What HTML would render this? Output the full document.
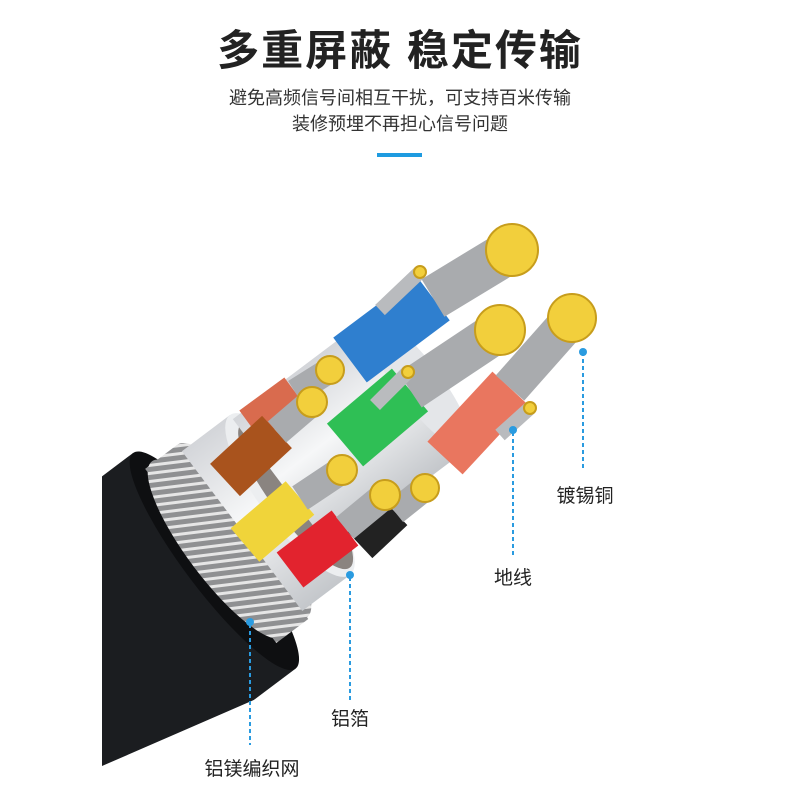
<!DOCTYPE html>
<html><head><meta charset="utf-8"><style>
html,body{margin:0;padding:0;background:#fff;overflow:hidden;width:800px;height:800px;}
body{position:relative;font-family:"Liberation Sans","Noto Sans CJK SC",sans-serif;}
.t{position:absolute;left:0;width:800px;text-align:center;color:#222;}
</style></head><body>
<div class="t" style="top:17px;font-size:42px;font-weight:bold;letter-spacing:2px;">多重屏蔽 稳定传输</div>
<div class="t" style="top:84px;font-size:18px;color:#333;">避免高频信号间相互干扰，可支持百米传输</div>
<div class="t" style="top:110px;font-size:18px;color:#333;">装修预埋不再担心信号问题</div>
<div style="position:absolute;left:377px;top:153px;width:45px;height:4px;background:#1e9be0;"></div>
<svg width="800" height="800" viewBox="0 0 800 800" style="position:absolute;left:0;top:0;overflow:hidden">
<defs>
<clipPath id="c"><polygon points="102,0 800,0 800,800 300,800 300,680 102,766"/></clipPath>
<pattern id="br" width="8" height="8" patternUnits="userSpaceOnUse" patternTransform="rotate(30)">
<rect width="8" height="8" fill="#8f9092"/><rect width="8" height="3" fill="#e6e6e6"/></pattern>
<linearGradient id="fo" x1="0" y1="0" x2="0" y2="1"><stop offset="0" stop-color="#d3d5d9"/><stop offset=".45" stop-color="#f6f7f8"/><stop offset="1" stop-color="#c4c7cb"/></linearGradient>
</defs>
<g clip-path="url(#c)">
<g transform="translate(290,495) rotate(-37)">
<rect x="-500" y="-128" width="400" height="270" fill="#1b1d20"/>
<ellipse cx="-100" cy="7" rx="30" ry="135" fill="#0e0f11"/>
</g>
</g>
<g transform="translate(290,495) rotate(-37)">
<rect x="-100" y="-108" width="40" height="218" fill="url(#br)"/>
<ellipse cx="-90" cy="0" rx="30" ry="110" fill="url(#br)"/>
<ellipse cx="-60" cy="0" rx="30" ry="108" fill="url(#br)"/>
<rect x="-60" y="-100" width="60" height="200" fill="url(#fo)"/>
<ellipse cx="0" cy="0" rx="30" ry="100" fill="#eceef0"/>
<ellipse cx="4" cy="4" rx="24" ry="90" fill="#8a8480"/>
<rect x="0" y="-95" width="170" height="165" fill="url(#fo)"/>
<ellipse cx="170" cy="-12" rx="22" ry="82" fill="#e4e6e9"/>
</g>
<g stroke-linecap="butt" fill="none">
<line x1="350" y1="360" x2="433" y2="298" stroke="#2f7fcf" stroke-width="56"/>
<line x1="433" y1="298" x2="512" y2="250" stroke="#a9abae" stroke-width="44"/>
<line x1="445" y1="458" x2="510" y2="388" stroke="#e9765f" stroke-width="48"/>
<line x1="510" y1="388" x2="572" y2="318" stroke="#a9abae" stroke-width="38"/>
<line x1="345" y1="445" x2="410" y2="390" stroke="#2fbf55" stroke-width="56"/>
<line x1="410" y1="390" x2="500" y2="330" stroke="#a9abae" stroke-width="42"/>
<line x1="380" y1="310" x2="420" y2="272" stroke="#b9bbbe" stroke-width="14"/>
<line x1="375" y1="405" x2="408" y2="372" stroke="#b9bbbe" stroke-width="14"/>
<line x1="500" y1="435" x2="530" y2="408" stroke="#b9bbbe" stroke-width="14"/>
<line x1="250" y1="425" x2="295" y2="392" stroke="#d96b4e" stroke-width="36"/>
<line x1="295" y1="392" x2="330" y2="370" stroke="#a9abae" stroke-width="26"/>
<line x1="225" y1="480" x2="277" y2="432" stroke="#a9531d" stroke-width="44"/>
<line x1="277" y1="432" x2="312" y2="402" stroke="#a9abae" stroke-width="28"/>
<line x1="245" y1="545" x2="300" y2="498" stroke="#f0d43a" stroke-width="44"/>
<line x1="300" y1="498" x2="342" y2="470" stroke="#a9abae" stroke-width="28"/>
<line x1="360" y1="545" x2="395" y2="512" stroke="#222" stroke-width="36"/>
<line x1="395" y1="512" x2="425" y2="488" stroke="#a9abae" stroke-width="26"/>
<line x1="290" y1="570" x2="345" y2="528" stroke="#e2232e" stroke-width="44"/>
<line x1="345" y1="528" x2="385" y2="495" stroke="#a9abae" stroke-width="28"/>
</g>
<g fill="#f2cf3c" stroke="#c79d1c" stroke-width="2">
<circle cx="512" cy="250" r="26"/><circle cx="500" cy="330" r="25"/><circle cx="572" cy="318" r="24"/>
<circle cx="330" cy="370" r="14"/><circle cx="312" cy="402" r="15"/><circle cx="342" cy="470" r="15"/>
<circle cx="385" cy="495" r="15"/><circle cx="425" cy="488" r="14"/>
<circle cx="420" cy="272" r="6"/><circle cx="408" cy="372" r="6"/><circle cx="530" cy="408" r="6"/>
</g>
<g stroke="#2a9be0" stroke-width="2" stroke-dasharray="4,3">
<line x1="583" y1="352" x2="583" y2="470"/><line x1="513" y1="432" x2="513" y2="555"/>
<line x1="350" y1="577" x2="350" y2="700"/><line x1="250" y1="624" x2="250" y2="745"/>
</g>
<g fill="#2a9be0"><circle cx="583" cy="352" r="4"/><circle cx="513" cy="430" r="4"/><circle cx="350" cy="575" r="4"/><circle cx="250" cy="622" r="4"/></g>
<g font-family="Liberation Sans, Noto Sans CJK SC, sans-serif" font-size="19" fill="#222" text-anchor="middle">
<text x="585" y="502">镀锡铜</text><text x="513" y="584">地线</text><text x="350" y="725">铝箔</text><text x="252" y="775">铝镁编织网</text>
</g>
</svg>
</body></html>
